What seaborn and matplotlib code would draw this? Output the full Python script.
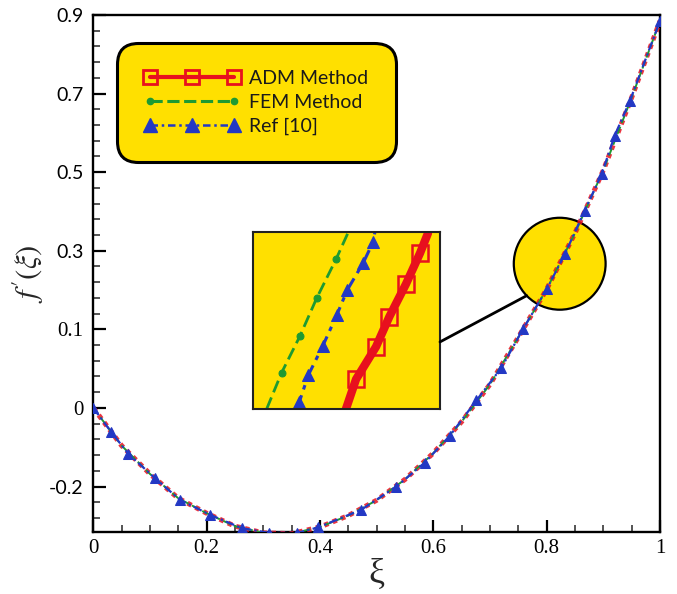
import numpy as np
import pandas as pd
import matplotlib
matplotlib.use("Agg")
import matplotlib.pyplot as plt
import seaborn as sns
from matplotlib.patches import Ellipse, ConnectionPatch
from matplotlib.lines import Line2D
from matplotlib.legend_handler import HandlerLine2D
from matplotlib.ticker import FixedLocator, MultipleLocator

# ---------------- data ----------------
xi = [0.0, 0.05, 0.10, 0.15, 0.20, 0.25, 0.30, 0.35, 0.40, 0.45, 0.50,
      0.55, 0.60, 0.65, 0.70, 0.75, 0.80, 0.85, 0.90, 0.95, 1.00]
f_adm = [0.0, -0.096, -0.168, -0.230, -0.268, -0.301, -0.318, -0.320, -0.303,
         -0.274, -0.235, -0.182, -0.115, -0.035, 0.060, 0.180, 0.302, 0.445,
         0.605, 0.790, 0.985]
f_fem = [0.0, -0.096, -0.168, -0.230, -0.268, -0.301, -0.318, -0.320, -0.303,
         -0.274, -0.235, -0.182, -0.115, -0.035, 0.060, 0.180, 0.302, 0.445,
         0.605, 0.790, 0.985]
xi_ref = [0.0, 0.031, 0.062, 0.109, 0.153, 0.206, 0.262, 0.31, 0.36, 0.397,
          0.473, 0.535, 0.585, 0.629, 0.676, 0.720, 0.758, 0.800, 0.832,
          0.867, 0.897, 0.920, 0.947, 1.0]
f_ref = [0.0, -0.060, -0.117, -0.179, -0.234, -0.272, -0.306, -0.318, -0.318,
         -0.304, -0.259, -0.200, -0.139, -0.071, 0.019, 0.102, 0.200, 0.302,
         0.391, 0.502, 0.595, 0.693, 0.782, 0.985]

# magnified window (local coordinates of the zoom box)
zoom_fem_u = [0.073, 0.153, 0.251, 0.340, 0.444, 0.510]
zoom_fem_v = [0.0, 0.205, 0.412, 0.625, 0.846, 1.0]
zoom_ref_u = [0.225, 0.248, 0.296, 0.373, 0.448, 0.504, 0.590, 0.643, 0.652]
zoom_ref_v = [0.0, 0.041, 0.192, 0.356, 0.531, 0.672, 0.827, 0.945, 1.0]
zoom_adm_u = [0.497, 0.551, 0.658, 0.729, 0.818, 0.893, 0.936]
zoom_adm_v = [0.0, 0.168, 0.352, 0.521, 0.706, 0.880, 0.994]

series_labels = ["ADM Method", "FEM Method", "Ref [10]"]
x_ticks = [0, 0.2, 0.4, 0.6, 0.8, 1.0]
x_tick_labels = ["0", "0.2", "0.4", "0.6", "0.8", "1"]
y_ticks = [-0.2, 0.0, 0.2, 0.4, 0.6, 0.8, 1.0]
y_tick_labels = ["-0.2", "0", "0.1", "0.3", "0.5", "0.7", "0.9"]

# ---------------- style ----------------
RED = "#E8101E"
GREEN = "#1E9A32"
BLUE = "#2338C4"
YELLOW = "#FFE000"

sns.set_theme(style="ticks")
plt.rcParams["mathtext.fontset"] = "stix"
plt.rcParams["font.family"] = ["Liberation Serif", "DejaVu Serif"]

fig = plt.figure(figsize=(6.77, 5.94), dpi=100)
ax = fig.add_axes([0.1378, 0.1049, 0.9749 - 0.1378, 0.9747 - 0.1049])
ax.set_facecolor("white")

df_main = pd.DataFrame({"xi": xi, "adm": f_adm, "fem": f_fem})
df_ref = pd.DataFrame({"xi": xi_ref, "ref": f_ref})

# zoom circle on the curve
circ_c = (0.823, 0.367)
circ_rx, circ_ry = 0.081, 0.117
ell = Ellipse(circ_c, 2 * circ_rx, 2 * circ_ry, facecolor=YELLOW,
              edgecolor="black", lw=1.6, zorder=1.5)
ax.add_patch(ell)

sns.lineplot(data=df_main, x="xi", y="adm", ax=ax, color=RED, lw=3.6,
             linestyle=(0, (0.9, 0.9)), zorder=3, alpha=0.85)
sns.lineplot(data=df_main, x="xi", y="fem", ax=ax, color=GREEN, lw=1.4,
             linestyle=(0, (4, 2)), zorder=4)
sns.lineplot(data=df_ref, x="xi", y="ref", ax=ax, color=BLUE, lw=1.6,
             linestyle=(0, (4, 1.5, 1, 1.5)), marker="^", markersize=6.5,
             markeredgecolor=BLUE, markerfacecolor=BLUE, zorder=5)

ax.set_xlim(0, 1)
ax.set_ylim(-0.315, 1.0)
ax.xaxis.set_major_locator(FixedLocator(x_ticks))
ax.set_xticklabels(x_tick_labels)
ax.xaxis.set_minor_locator(MultipleLocator(0.05))
ax.yaxis.set_major_locator(FixedLocator(y_ticks))
ax.set_yticklabels(y_tick_labels)
ax.yaxis.set_minor_locator(MultipleLocator(0.04))

ax.tick_params(which="major", direction="in", length=9, width=1.6,
               colors="black", top=False, right=False)
ax.tick_params(which="minor", direction="in", length=5, width=1.1,
               top=False, right=False)
ax.tick_params(axis="y", which="major", pad=7, labelsize=14)
ax.tick_params(axis="x", which="major", pad=5, labelsize=15)

sans_labels = {"0.9", "0.7", "0.5", "0.3", "-0.2"}
for lab in ax.get_yticklabels():
    if lab.get_text() in sans_labels:
        lab.set_fontfamily(["Lato", "DejaVu Sans"])
    else:
        lab.set_fontfamily(["Liberation Serif", "DejaVu Serif"])
        lab.set_fontsize(15)
for lab in ax.get_xticklabels():
    lab.set_fontfamily(["Liberation Serif", "DejaVu Serif"])

for sp in ax.spines.values():
    sp.set_visible(True)
    sp.set_linewidth(1.7)
    sp.set_color("black")

ax.set_xlabel("ξ", fontsize=26, labelpad=0)
ax.set_ylabel(r"$f'(\xi)$", fontsize=22, labelpad=2)

# ---------------- legend ----------------
h_adm = Line2D([], [], color=RED, lw=3, marker="s", markersize=10,
               markerfacecolor="none", markeredgecolor=RED, markeredgewidth=2)
h_fem = Line2D([], [], color=GREEN, lw=2.2, linestyle=(0, (4, 1.5)),
               marker="o", markersize=4.5, markerfacecolor=GREEN,
               markeredgecolor=GREEN)
h_ref = Line2D([], [], color=BLUE, lw=1.8, linestyle=(0, (3, 1.5, 1, 1.5)),
               marker="^", markersize=10, markerfacecolor=BLUE,
               markeredgecolor=BLUE)
leg = ax.legend([h_adm, h_fem, h_ref], series_labels, loc="upper left",
                bbox_to_anchor=(0.042, 0.946), borderaxespad=0,
                numpoints=3, handler_map={h_fem: HandlerLine2D(numpoints=2)},
                prop={"family": ["Lato", "DejaVu Sans"], "size": 14},
                handlelength=4.9, handletextpad=0.5, borderpad=1.4,
                labelspacing=0.35, frameon=True, fancybox=True,
                facecolor=YELLOW, edgecolor="black", framealpha=1)
leg.get_frame().set_linewidth(2.2)
leg.get_frame().set_boxstyle("round", pad=0, rounding_size=1.1)
for t in leg.get_texts():
    t.set_color("#1a1a1a")

# ---------------- magnified inset ----------------
ins = fig.add_axes([253 / 677, (594 - 409) / 594, 187 / 677, 177 / 594])
ins.set_facecolor(YELLOW)
df_zf = pd.DataFrame({"u": zoom_fem_u, "v": zoom_fem_v})
df_zr = pd.DataFrame({"u": zoom_ref_u, "v": zoom_ref_v})
df_za = pd.DataFrame({"u": zoom_adm_u, "v": zoom_adm_v})
sns.lineplot(data=df_zf, x="u", y="v", ax=ins, sort=False, color=GREEN,
             lw=2.0, linestyle=(0, (4.5, 2)), marker="o", markersize=5,
             markerfacecolor=GREEN, markeredgecolor=GREEN,
             markevery=[1, 2, 3, 4])
sns.lineplot(data=df_zr, x="u", y="v", ax=ins, sort=False, color=BLUE,
             lw=2.2, linestyle=(0, (5, 2, 1.5, 2)), marker="^", markersize=9,
             markerfacecolor=BLUE, markeredgecolor=BLUE,
             markevery=[1, 2, 3, 4, 5, 6, 7])
sns.lineplot(data=df_za, x="u", y="v", ax=ins, sort=False, color=RED,
             lw=6, solid_capstyle="round", marker="s", markersize=12,
             markerfacecolor="none", markeredgecolor=RED,
             markeredgewidth=1.8, markevery=[1, 2, 3, 4, 5])
ins.set_xlim(0, 1)
ins.set_ylim(0, 1)
ins.set_xticks([])
ins.set_yticks([])
ins.set_xlabel("")
ins.set_ylabel("")
for sp in ins.spines.values():
    sp.set_visible(True)
    sp.set_linewidth(1.5)
    sp.set_color("#222222")

# connector from inset to circle
ang = np.deg2rad(224)
pB = (circ_c[0] + circ_rx * np.cos(ang), circ_c[1] + circ_ry * np.sin(ang))
con = ConnectionPatch(xyA=(1.0, 0.379), coordsA=ins.transAxes,
                      xyB=pB, coordsB=ax.transData, color="black", lw=2.0)
fig.add_artist(con)

fig.savefig("out.png", dpi=100)
